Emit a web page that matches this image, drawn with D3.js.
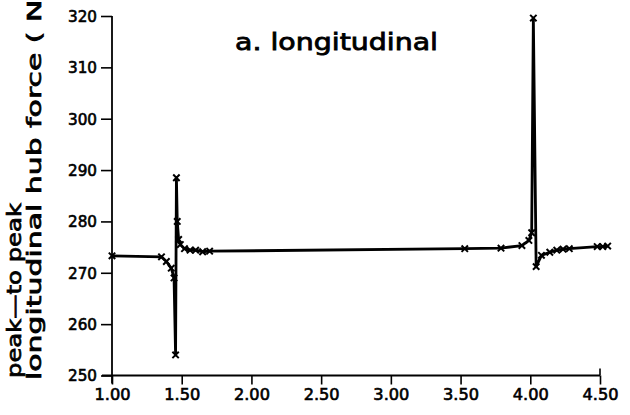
<!DOCTYPE html>
<html><head><meta charset="utf-8">
<script src="https://cdn.jsdelivr.net/npm/d3@7"></script>
<style>
html,body{margin:0;padding:0;background:#fff;}
svg{display:block;}
text{font-family:"DejaVu Sans",sans-serif;fill:#000;}
</style></head>
<body>
<svg id="c" width="630" height="415"></svg>
<script>
// ---- data ----
const speedRatio = [1.00, 1.355, 1.39, 1.425, 1.445, 1.456, 1.462, 1.468, 1.478, 1.49, 1.52, 1.56, 1.60, 1.65, 1.70,
  3.53, 3.79, 3.94, 3.99, 4.01, 4.022, 4.042, 4.08, 4.14, 4.19, 4.235, 4.28, 4.48, 4.52, 4.555];
const hubForce = [273.3, 273.1, 272.2, 270.9, 269.0, 254.0, 288.5, 280.0, 276.5, 275.5, 274.7, 274.4, 274.4, 274.1, 274.2,
  274.7, 274.8, 275.3, 276.3, 277.8, 319.6, 271.2, 273.4, 274.0, 274.4, 274.6, 274.7, 275.1, 275.1, 275.2];
const xTicks = [1.00, 1.50, 2.00, 2.50, 3.00, 3.50, 4.00, 4.50];
const yTicks = [250, 260, 270, 280, 290, 300, 310, 320];
const titleText = "a. longitudinal";
const yLabel1 = "peak\u2014to peak";
const yLabel2 = "longitudinal hub force ( N)";

const svg = d3.select("#c");
const x = d3.scaleLinear().domain([1, 4.5]).range([112, 600]);
const y = d3.scaleLinear().domain([250, 320]).range([375.5, 16]);
const FONT = '"DejaVu Sans",sans-serif';

// axes
const gx = svg.append("g").attr("transform", `translate(0,${y(250)})`)
  .call(d3.axisBottom(x).tickValues(xTicks).tickFormat(d3.format(".2f")).tickSize(9).tickPadding(5).tickSizeOuter(0));
const gy = svg.append("g").attr("transform", `translate(${x(1)},0)`)
  .call(d3.axisLeft(y).tickValues(yTicks).tickFormat(d3.format("d")).tickSize(11).tickPadding(4).tickSizeOuter(0));
[gx, gy].forEach(g => {
  g.select(".domain").remove();
  g.selectAll("line").attr("stroke", "#000").attr("stroke-width", 1.6);
  g.selectAll("text").style("font-size", "15px").style("font-family", FONT)
    .attr("fill", "#000").attr("stroke", "#000").attr("stroke-width", 0.6);
});
gx.selectAll("text").attr("textLength", 36).attr("lengthAdjust", "spacingAndGlyphs");
gy.selectAll("text").attr("textLength", 29).attr("lengthAdjust", "spacingAndGlyphs").attr("dy", "0.36em");
// x axis line, extending slightly left of origin
svg.append("line").attr("x1", x(1) - 10).attr("x2", x(4.5)).attr("y1", y(250)).attr("y2", y(250))
  .attr("stroke", "#000").attr("stroke-width", 1.8);
// y axis line, extending slightly below origin
svg.append("line").attr("x1", x(1)).attr("x2", x(1)).attr("y1", y(250) + 8).attr("y2", y(320))
  .attr("stroke", "#000").attr("stroke-width", 1.8);
// 4.50 tick also upward
svg.append("line").attr("x1", x(4.5)).attr("x2", x(4.5)).attr("y1", y(250)).attr("y2", y(250) - 7)
  .attr("stroke", "#000").attr("stroke-width", 1.6);

// curve
const pts = speedRatio.map((v, i) => [v, hubForce[i]]);
svg.append("path").datum(pts)
  .attr("d", d3.line().x(d => x(d[0])).y(d => y(d[1])))
  .attr("fill", "none").attr("stroke", "#000").attr("stroke-width", 2.8).attr("stroke-linejoin", "round");
// x markers
const s = 3.2;
svg.append("g").selectAll("path").data(pts).join("path")
  .attr("d", d => {
    const cx = x(d[0]), cy = y(d[1]);
    return `M${cx - s},${cy - s}L${cx + s},${cy + s}M${cx - s},${cy + s}L${cx + s},${cy - s}`;
  })
  .attr("stroke", "#000").attr("stroke-width", 2).attr("fill", "none");

// title
svg.append("text").attr("x", 235).attr("y", 50).text(titleText)
  .style("font-size", "23px").attr("stroke", "#000").attr("stroke-width", 0.8)
  .attr("textLength", 203).attr("lengthAdjust", "spacingAndGlyphs");

// y labels
svg.append("text").attr("transform", "translate(21,378) rotate(-90)").text(yLabel1)
  .style("font-size", "19px").attr("stroke", "#000").attr("stroke-width", 0.7)
  .attr("textLength", 175).attr("lengthAdjust", "spacingAndGlyphs");
svg.append("text").attr("transform", "translate(41,380) rotate(-90)").text(yLabel2)
  .style("font-size", "19px").attr("stroke", "#000").attr("stroke-width", 0.7)
  .attr("textLength", 392).attr("lengthAdjust", "spacingAndGlyphs");
</script>
</body></html>
